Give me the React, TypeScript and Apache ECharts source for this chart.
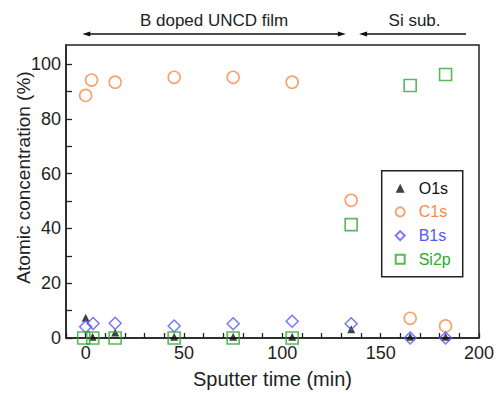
import React, { useEffect, useRef } from "react";
import * as echarts from "echarts";

// Sputter time (min) / atomic concentration (%)
const o1sX = [0, 3.5, 15, 45, 75, 105, 135, 165, 183];
const o1sY = [7.4, 0.5, 2, 0.5, 0.5, 0.5, 3.2, 0.5, 0.5];
const c1sX = [0, 3, 15, 45, 75, 105, 135, 165, 183];
const c1sY = [88.6, 94.2, 93.4, 95.2, 95.2, 93.4, 50.3, 7.2, 4.4];
const b1sX = [0, 3.8, 15, 45, 75, 105, 135, 165, 183];
const b1sY = [4.1, 5.3, 5.4, 4.4, 5.2, 6.1, 5.2, 0, 0];
const si2pX = [-1, 3.6, 15, 45, 75, 105, 135, 165, 183];
const si2pY = [0, 0, 0, 0, 0, 0, 41.4, 92.2, 96.2];

const seriesNames = ["O1s", "C1s", "B1s", "Si2p"];
const xTickLabels = [0, 50, 100, 150, 200];
const yTickLabels = [0, 20, 40, 60, 80, 100];

// annotation ranges (sputter time)
const filmRange = [-1.7, 132.3];
const subRange = [139, 193.4];
const filmLabel = "B doped UNCD film";
const subLabel = "Si sub.";

const FONT = "'Liberation Sans', Arial, Helvetica, sans-serif";
const ORANGE = "#f98a4b";
const BLUE = "#5555ff";
const GREEN = "#2ea82e";
const BLACK = "#111";

const zip = (xs: number[], ys: number[]) => xs.map((x, i) => [x, ys[i]]);

export default function App() {
  const ref = useRef<HTMLDivElement>(null);
  useEffect(() => {
    if (!ref.current) return;
    const chart = echarts.init(ref.current, null, { renderer: "svg" });
    const hollow = "rgba(255,255,255,0)";
    chart.setOption({
      animation: false,
      grid: {
        left: 66,
        right: 19,
        top: 45,
        bottom: 53,
        show: true,
        borderColor: "#222",
        borderWidth: 1.5,
        backgroundColor: "transparent",
      },
      xAxis: {
        type: "value",
        min: -10,
        max: 200,
        interval: 10,
        splitLine: { show: false },
        axisLine: { onZero: false, lineStyle: { color: "#222", width: 1.5 } },
        axisTick: { inside: true, length: 5, lineStyle: { color: "#222", width: 1.3 } },
        axisLabel: {
          margin: 6,
          fontFamily: FONT,
          fontSize: 18,
          color: "#222",
          formatter: (v: number) => (xTickLabels.includes(v) ? String(v) : ""),
        },
        name: "Sputter time (min)",
        nameLocation: "middle",
        nameGap: 31,
        nameTextStyle: { fontFamily: FONT, fontSize: 20, color: "#222" },
      },
      yAxis: {
        type: "value",
        min: 0,
        max: 107,
        interval: 10,
        splitLine: { show: false },
        axisLine: { onZero: false, lineStyle: { color: "#222", width: 1.5 } },
        axisTick: { inside: true, length: 6, lineStyle: { color: "#222", width: 1.3 } },
        axisLabel: {
          margin: 5,
          fontFamily: FONT,
          fontSize: 18,
          color: "#222",
          showMaxLabel: false,
          formatter: (v: number) => (yTickLabels.includes(v) ? String(v) : ""),
        },
      },
      legend: {
        orient: "vertical",
        left: 381.7,
        top: 170.7,
        padding: [9.5, 12, 9.5, 13],
        itemWidth: 9,
        itemHeight: 9,
        itemGap: 7.7,
        borderColor: "#222",
        borderWidth: 1.5,
        backgroundColor: "#fff",
        textStyle: { fontFamily: FONT, fontSize: 16, lineHeight: 16, padding: [0, 0, 0, 9] },
        data: [
          { name: seriesNames[0], textStyle: { color: BLACK } },
          { name: seriesNames[1], textStyle: { color: ORANGE } },
          { name: seriesNames[2], textStyle: { color: BLUE } },
          { name: seriesNames[3], textStyle: { color: GREEN } },
        ],
      },
      series: [
        {
          name: seriesNames[0],
          type: "scatter",
          symbol: "triangle",
          symbolSize: 8,
          itemStyle: { color: BLACK },
          data: zip(o1sX, o1sY),
          z: 2,
        },
        {
          name: seriesNames[1],
          type: "scatter",
          symbol: "circle",
          symbolSize: 12,
          itemStyle: { color: hollow, borderColor: ORANGE, borderWidth: 1.6 },
          data: zip(c1sX, c1sY),
          z: 3,
        },
        {
          name: seriesNames[2],
          type: "scatter",
          symbol: "diamond",
          symbolSize: [12, 12],
          itemStyle: { color: hollow, borderColor: BLUE, borderWidth: 1.5 },
          data: zip(b1sX, b1sY),
          z: 3,
        },
        {
          name: seriesNames[3],
          type: "scatter",
          symbol: "rect",
          symbolSize: 12,
          itemStyle: { color: hollow, borderColor: GREEN, borderWidth: 1.6 },
          data: zip(si2pX, si2pY),
          z: 3,
        },
      ],
    });

    // annotations above the plot, placed via the axis scale
    const px = (v: number) => chart.convertToPixel({ xAxisIndex: 0 }, v) as number;
    const topY = chart.convertToPixel({ yAxisIndex: 0 }, 107) as number;
    const ay = topY - 11;
    const head = (tipX: number, dir: number) => ({
      type: "polygon",
      shape: {
        points: [
          [tipX, ay],
          [tipX + dir * 8, ay - 2.6],
          [tipX + dir * 8, ay + 2.6],
        ],
      },
      style: { fill: "#111" },
    });
    const f0 = px(filmRange[0]);
    const f1 = px(filmRange[1]);
    const s0 = px(subRange[0]);
    const s1 = px(subRange[1]);
    chart.setOption({
      graphic: [
        {
          type: "line",
          shape: { x1: f0 + 4, y1: ay, x2: f1 - 4, y2: ay },
          style: { stroke: "#111", lineWidth: 1.4 },
        },
        head(f0, 1),
        head(f1, -1),
        {
          type: "line",
          shape: { x1: s0 + 4, y1: ay, x2: s1, y2: ay },
          style: { stroke: "#111", lineWidth: 1.4 },
        },
        head(s0, 1),
        {
          type: "text",
          x: (f0 + f1) / 2,
          y: ay - 14,
          style: {
            text: filmLabel,
            fontFamily: FONT,
            fontSize: 17,
            fill: "#222",
            align: "center",
            verticalAlign: "middle",
          },
        },
        {
          type: "text",
          x: (s0 + s1) / 2 + 2,
          y: ay - 14,
          style: {
            text: subLabel,
            fontFamily: FONT,
            fontSize: 17,
            fill: "#222",
            align: "center",
            verticalAlign: "middle",
          },
        },
        {
          type: "text",
          x: 23,
          y: 177.5,
          rotation: Math.PI / 2,
          style: {
            text: "Atomic concentration (%)",
            fontFamily: FONT,
            fontSize: 19,
            fill: "#222",
            align: "center",
            verticalAlign: "middle",
          },
        },
      ],
    });
    return () => chart.dispose();
  }, []);
  return (
    <div
      ref={ref}
      style={{ position: "absolute", left: 0, top: 0, width: 498, height: 394 }}
    />
  );
}
